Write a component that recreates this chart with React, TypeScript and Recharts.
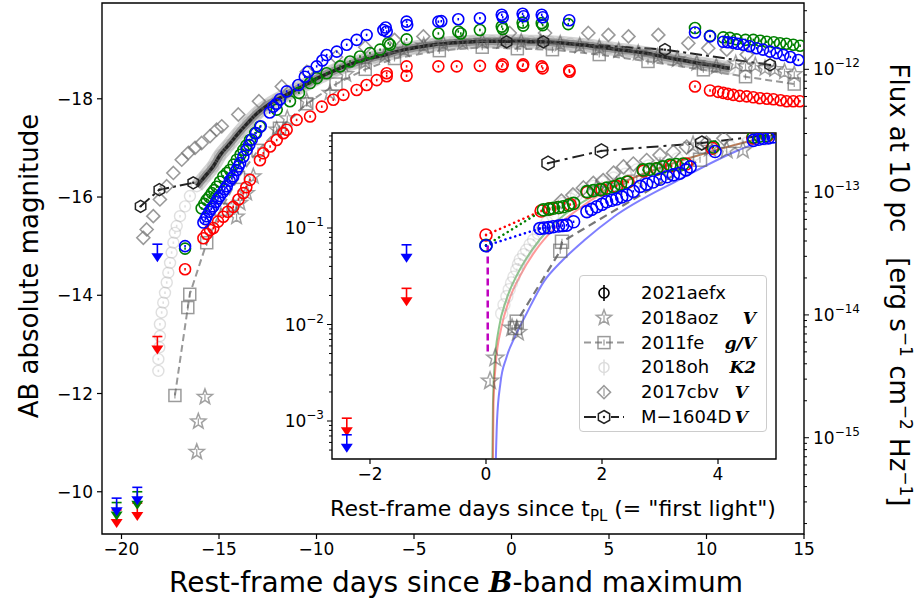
import React from 'react';
import { ComposedChart, Scatter, Line, XAxis, YAxis, ReferenceArea } from 'recharts';

type Pt = [number, number];

// ---------- main panel: days since B max vs AB absolute magnitude ----------
const X_TICKS = [-20, -15, -10, -5, 0, 5, 10, 15];
const MAG_TICKS = [-18, -16, -14, -12, -10];
const FLUX_DECADES = [1e-16, 1e-15, 1e-14, 1e-13, 1e-12];
const X_DOMAIN: Pt = [-21, 15];
const MAG_DOMAIN: Pt = [-19.95, -9.14];

// 2021aefx (blue / green / red bands)
const AEFX_BLUE: Pt[] = [
  [-16.74, -15.0], [-15.8, -15.48], [-15.7, -15.55], [-15.63, -15.61], [-15.5, -15.7], [-15.4, -15.76],
  [-15.29, -15.81], [-15.15, -15.9], [-15.05, -15.97], [-14.95, -16.02], [-14.8, -16.1], [-14.7, -16.16],
  [-14.6, -16.22], [-14.45, -16.33], [-14.35, -16.38], [-14.27, -16.42], [-14.1, -16.55], [-14.0, -16.62],
  [-13.92, -16.69], [-13.75, -16.82], [-13.58, -16.96], [-13.45, -17.06], [-13.32, -17.17], [-13.1, -17.3],
  [-12.86, -17.44], [-12.4, -17.72], [-12.21, -17.84], [-12.05, -17.9], [-11.87, -17.99], [-11.53, -18.15],
  [-10.93, -18.28], [-10.6, -18.45], [-10.42, -18.55], [-9.99, -18.66], [-9.7, -18.78], [-9.48, -18.89],
  [-8.96, -18.96], [-8.45, -19.1], [-7.94, -19.2], [-7.43, -19.3], [-6.57, -19.4], [-6.4, -19.37],
  [-6.45, -19.45], [-5.38, -19.57], [-5.35, -19.5], [-3.75, -19.57], [-3.6, -19.58], [-2.73, -19.62],
  [-1.62, -19.64], [-0.5, -19.71], [-0.45, -19.66], [0.57, -19.73], [0.62, -19.68], [1.55, -19.71],
  [1.6, -19.66], [2.96, -19.6], [9.41, -19.35], [10.18, -19.27], [10.86, -19.16], [11.1, -19.15],
  [11.37, -19.14], [11.6, -19.12], [11.89, -19.1], [12.2, -19.07], [12.57, -19.03], [12.9, -19.0],
  [13.26, -18.96], [13.6, -18.93], [13.94, -18.89], [14.3, -18.85], [14.71, -18.79],
];
const AEFX_GREEN: Pt[] = [
  [-16.74, -14.95], [-15.89, -15.77], [-15.75, -15.86], [-15.63, -15.94], [-15.5, -16.0], [-15.37, -16.08],
  [-15.25, -16.14], [-15.12, -16.21], [-14.95, -16.31], [-14.78, -16.42], [-14.6, -16.49], [-14.44, -16.55],
  [-14.25, -16.66], [-14.09, -16.76], [-13.9, -16.86], [-13.75, -16.96], [-13.6, -17.05], [-13.41, -17.16],
  [-13.15, -17.3], [-12.9, -17.43], [-12.04, -17.78], [-11.36, -17.95], [-10.9, -18.12], [-10.33, -18.32],
  [-9.99, -18.42], [-9.48, -18.52], [-8.79, -18.66], [-8.28, -18.76], [-7.77, -18.86], [-7.26, -18.93],
  [-6.74, -19.0], [-6.32, -19.13], [-6.23, -19.1], [-5.38, -19.21], [-3.75, -19.33], [-2.73, -19.37],
  [-2.6, -19.33], [-1.62, -19.4], [-0.5, -19.47], [-0.45, -19.42], [0.57, -19.55], [0.6, -19.49],
  [1.55, -19.54], [1.6, -19.5], [2.91, -19.52], [9.41, -19.44], [10.18, -19.28], [10.86, -19.25],
  [11.2, -19.24], [11.54, -19.21], [12.0, -19.2], [12.4, -19.2], [12.75, -19.18], [13.09, -19.16],
  [13.45, -19.15], [13.77, -19.13], [14.1, -19.12], [14.45, -19.1], [14.8, -19.08],
];
const AEFX_RED: Pt[] = [
  [-16.74, -14.53], [-15.8, -15.16], [-15.63, -15.25], [-15.46, -15.33], [-15.29, -15.37], [-15.05, -15.5],
  [-14.78, -15.6], [-14.55, -15.7], [-14.27, -15.8], [-14.0, -15.95], [-13.75, -16.08], [-13.6, -16.2],
  [-13.41, -16.35], [-12.9, -16.75], [-12.73, -16.89], [-12.38, -17.03], [-12.04, -17.16], [-11.7, -17.3],
  [-11.53, -17.37], [-11.02, -17.57], [-10.33, -17.64], [-9.73, -17.84], [-9.14, -17.98], [-8.62, -18.08],
  [-7.94, -18.18], [-7.43, -18.28], [-6.91, -18.38], [-6.4, -18.52], [-6.4, -18.46], [-5.38, -18.66],
  [-5.38, -18.47], [-3.75, -18.66], [-2.81, -18.66], [-1.62, -18.67], [-0.5, -18.66], [-0.45, -18.7],
  [0.57, -18.67], [0.6, -18.7], [1.55, -18.66], [1.6, -18.62], [2.96, -18.58], [2.98, -18.55],
  [9.41, -18.25], [10.18, -18.17], [10.6, -18.14], [10.86, -18.12], [11.1, -18.1], [11.37, -18.08],
  [11.7, -18.06], [12.06, -18.05], [12.4, -18.03], [12.74, -18.01], [13.1, -18.0], [13.43, -17.99],
  [13.8, -17.97], [14.11, -17.95], [14.45, -17.95], [14.79, -17.95],
];
// 2021aefx upper limits
const UL_BLUE: Pt[] = [[-20.25, -9.87], [-19.19, -10.09], [-18.16, -15.04]];
const UL_GREEN: Pt[] = [[-20.25, -9.78], [-19.19, -10.0]];
const UL_RED: Pt[] = [[-20.25, -9.63], [-19.19, -9.77], [-18.16, -13.16]];

// comparison SNe
const AOZ: Pt[] = [
  [-16.14, -10.81], [-16.06, -11.43], [-15.72, -11.93], [-14.27, -15.81], [-14.1, -15.6], [-13.92, -15.88],
  [-13.58, -16.08], [-13.24, -16.42], [-12.04, -17.37], [-11.5, -17.6], [-10.5, -17.95], [-9.31, -18.12],
  [-8.5, -18.5], [-7.5, -18.75], [-6.5, -18.88], [-5.5, -19.0], [-4.5, -19.08], [-3.5, -19.12],
  [-2.5, -19.15], [-1.5, -19.17], [-0.5, -19.17], [0.5, -19.16], [1.5, -19.15], [2.5, -19.12],
  [3.5, -19.08], [4.5, -19.04], [5.5, -18.98], [6.5, -18.93], [7.5, -18.86], [8.5, -18.8],
  [9.5, -18.72], [10.5, -18.65], [11.5, -18.72], [12.0, -18.66], [12.5, -18.68], [13.0, -18.62],
  [13.5, -18.6], [14.0, -18.55], [14.5, -18.5],
];
const FE11: Pt[] = [
  [-17.26, -11.96], [-16.6, -13.75], [-16.5, -14.02], [-15.63, -15.07], [-14.9, -15.75], [-14.0, -16.4],
  [-13.0, -16.95], [-11.9, -17.4], [-10.5, -17.9], [-9.0, -18.3], [-7.5, -18.6], [-6.0, -18.82],
  [-3.7, -18.98], [-1.5, -19.05], [0.3, -19.02], [2.1, -19.0], [4.5, -18.9], [7.0, -18.76],
  [9.84, -18.59], [12.0, -18.45], [14.5, -18.3],
];
const OH18_K2: Pt[] = [
  [-18.11, -12.46], [-18.11, -12.7], [-18.06, -12.94], [-18.03, -13.17], [-18.03, -13.41], [-17.94, -13.65],
  [-17.86, -13.85], [-17.77, -14.05], [-17.68, -14.26], [-17.6, -14.46], [-17.51, -14.66], [-17.43, -14.87],
  [-17.34, -15.07], [-17.26, -15.27], [-17.17, -15.41], [-17.0, -15.61], [-16.74, -15.81], [-16.49, -16.02],
  [-16.14, -16.22], [-15.72, -16.42], [-15.3, -16.62], [-14.95, -16.85], [-14.5, -17.06], [-14.0, -17.3],
  [-13.5, -17.52], [-13.0, -17.72], [-12.5, -17.87], [-12.0, -17.99], [-11.5, -18.09], [-11.0, -18.2],
  [-10.5, -18.3], [-10.0, -18.41], [-9.5, -18.5], [-9.0, -18.59], [-8.5, -18.67], [-8.0, -18.74],
  [-7.5, -18.8], [-7.0, -18.85], [-6.5, -18.89], [-6.0, -18.95], [-5.5, -19.0], [-5.0, -19.04],
  [-4.5, -19.07], [-4.0, -19.1], [-3.5, -19.12], [-3.0, -19.14], [-2.5, -19.15], [-2.0, -19.16],
  [-1.5, -19.17], [-1.0, -19.17], [-0.5, -19.17], [0.0, -19.17], [0.5, -19.17], [1.0, -19.16],
  [1.5, -19.16], [2.0, -19.15], [2.5, -19.14], [3.0, -19.12], [3.5, -19.1], [4.0, -19.08],
  [4.5, -19.05], [5.0, -19.03], [5.5, -19.0], [6.0, -18.98], [6.5, -18.95], [7.0, -18.92],
  [7.5, -18.88], [8.0, -18.84], [8.5, -18.8], [9.0, -18.77], [9.5, -18.73], [10.0, -18.7],
  [10.5, -18.67], [11.0, -18.63], [11.2, -18.62],
];
const CBV17: Pt[] = [
  [-18.88, -15.17], [-18.71, -15.34], [-18.37, -15.61], [-18.03, -15.95], [-17.68, -16.22], [-17.34, -16.49],
  [-16.91, -16.76], [-16.57, -16.9], [-16.23, -17.0], [-15.89, -17.1], [-15.46, -17.24], [-15.12, -17.37],
  [-14.86, -17.44], [-14.01, -17.68], [-12.95, -17.95], [-11.78, -18.25], [-10.5, -18.55], [-9.0, -18.85],
  [-7.5, -19.05], [-6.0, -19.2], [-4.52, -19.27], [-0.09, -19.34], [1.72, -19.34], [3.94, -19.34],
  [4.97, -19.3], [6.0, -19.27], [7.53, -19.3], [9.07, -19.13], [10.09, -19.03], [11.04, -19.0],
  [12.06, -18.9],
];
const M1604D_EARLY: Pt[] = [[-19.02, -15.81], [-18.06, -16.15], [-16.32, -16.29]];
const M1604D_LATE: Pt[] = [[-0.25, -19.16], [1.63, -19.16], [7.87, -19.0], [13.26, -18.69]];

// ---------- inset: days since first light vs normalised flux ----------
const T_TICKS = [-2, 0, 2, 4];
const T_DOMAIN: Pt = [-2.655, 5];
const F_DECADES = [1e-4, 1e-3, 1e-2, 1e-1];
const F_DOMAIN: Pt = [4.04e-4, 0.965];

const IN_BLUE: Pt[] = [
  [0.0, 0.0656], [0.93, 0.099], [1.0, 0.1], [1.08, 0.101], [1.16, 0.103], [1.25, 0.105], [1.32, 0.106],
  [1.39, 0.107], [1.51, 0.116], [1.74, 0.148], [1.82, 0.156], [1.91, 0.166], [2.0, 0.176], [2.08, 0.187],
  [2.17, 0.194], [2.25, 0.2], [2.34, 0.21], [2.43, 0.22], [2.54, 0.24], [2.66, 0.27], [2.77, 0.285],
  [2.88, 0.3], [3.0, 0.32], [3.12, 0.34], [3.23, 0.355], [3.34, 0.37], [3.45, 0.4], [3.52, 0.43],
  [3.95, 0.62], [4.61, 0.81], [4.7, 0.83], [4.78, 0.85], [4.87, 0.86], [4.95, 0.88],
];
const IN_GREEN: Pt[] = [
  [0.0, 0.066], [0.99, 0.154], [1.08, 0.157], [1.16, 0.16], [1.25, 0.163], [1.33, 0.166], [1.42, 0.172],
  [1.51, 0.18], [1.74, 0.238], [1.85, 0.244], [1.97, 0.25], [2.08, 0.259], [2.2, 0.268], [2.32, 0.285],
  [2.43, 0.3], [2.71, 0.4], [2.82, 0.405], [2.94, 0.41], [3.05, 0.43], [3.17, 0.45], [3.28, 0.455],
  [3.4, 0.46], [3.92, 0.69], [4.61, 0.88], [4.72, 0.895], [4.84, 0.91],
];
const IN_RED: Pt[] = [
  [0.0, 0.0846], [0.95, 0.15], [1.1, 0.158], [1.25, 0.163], [1.45, 0.175], [1.75, 0.235], [2.0, 0.25],
  [2.25, 0.27], [2.45, 0.3], [2.72, 0.39], [2.95, 0.41], [3.2, 0.44], [3.45, 0.46], [3.9, 0.67],
  [4.6, 0.86], [4.85, 0.9],
];
const IN_UL_BLUE: Pt[] = [[-2.4, 0.00072], [-1.37, 0.067]];
const IN_UL_RED: Pt[] = [[-2.4, 0.00107], [-1.37, 0.0237]];
const IN_T0_LINE: Pt[] = [[0.03, 0.066], [0.03, 0.005]];

const FIT_GREEN: Pt[] = [
  [0.11, 4.1e-4], [0.12, 0.0015], [0.15, 0.004], [0.22, 0.009], [0.35, 0.018], [0.55, 0.034],
  [0.8, 0.06], [1.1, 0.1], [1.5, 0.16], [2.0, 0.24], [3.0, 0.42], [4.0, 0.65], [5.0, 0.93],
];
const FIT_RED: Pt[] = [
  [0.12, 4.1e-4], [0.13, 0.0015], [0.17, 0.004], [0.26, 0.009], [0.4, 0.018], [0.6, 0.033],
  [0.85, 0.058], [1.15, 0.095], [1.55, 0.15], [2.0, 0.23], [3.0, 0.42], [4.0, 0.65], [5.0, 0.93],
];
const FIT_BLUE: Pt[] = [
  [0.17, 4.1e-4], [0.19, 0.001], [0.25, 0.0025], [0.35, 0.0045], [0.5, 0.0075], [0.7, 0.013],
  [1.0, 0.028], [1.3, 0.045], [1.7, 0.075], [2.2, 0.13], [3.3, 0.31], [4.3, 0.62], [5.0, 0.9],
];
const IN_AOZ: Pt[] = [
  [0.07, 0.0026], [0.16, 0.0045], [0.45, 0.0092], [0.55, 0.0083], [1.9, 0.25], [2.25, 0.27],
  [2.6, 0.33], [3.0, 0.42], [3.57, 0.72], [3.86, 0.67], [4.15, 0.64], [4.43, 0.64],
];
const IN_FE11: Pt[] = [[0.5, 0.0092], [0.53, 0.0107], [1.28, 0.058], [1.31, 0.072], [3.69, 0.51]];
const IN_K2: Pt[] = [
  [0.27, 0.013], [0.31, 0.016], [0.36, 0.0195], [0.4, 0.023], [0.44, 0.027], [0.48, 0.031], [0.53, 0.037],
  [0.56, 0.042], [0.59, 0.047], [0.65, 0.053], [0.7, 0.059], [0.76, 0.067], [0.82, 0.075], [0.9, 0.088],
  [0.97, 0.1], [1.05, 0.115], [1.15, 0.135], [1.25, 0.16], [1.33, 0.18], [1.45, 0.2], [1.56, 0.22],
  [1.7, 0.24], [1.85, 0.27], [2.0, 0.3], [2.2, 0.33], [2.4, 0.36], [2.6, 0.4], [2.8, 0.44], [3.0, 0.47],
  [3.3, 0.52], [3.6, 0.58], [3.9, 0.63], [4.2, 0.7], [4.5, 0.76], [4.8, 0.83],
];
const IN_CBV17: Pt[] = [
  [1.3, 0.19], [1.5, 0.22], [1.68, 0.26], [1.85, 0.29], [2.02, 0.31], [2.2, 0.37], [2.37, 0.43],
  [2.54, 0.46], [2.77, 0.5], [3.0, 0.57], [3.23, 0.61], [3.46, 0.69], [3.8, 0.76], [4.1, 0.85],
];
const IN_M1604D: Pt[] = [[1.07, 0.47], [1.99, 0.63], [3.72, 0.76], [19.84, 10.7]];

// ---------- helpers ----------
const FONT = '"DejaVu Sans", Verdana, sans-serif';
const SERIF = '"DejaVu Serif", serif';
const MINUS = '\u2212';
const BLUE = '#0000ff';
const GREEN = '#008000';
const RED = '#ff0000';
const TICK_FS = 17;

const xy = (a: Pt[]) => a.map(([x, y]) => ({ x, y }));
const tf = (a: Pt[]) => a.map(([t, f]) => ({ t, f }));
const fmt = (v: number) => (v < 0 ? MINUS + Math.abs(v) : String(v));
const magOfFlux = (f: number) => -2.5 * Math.log10(f) - 48.6;
const fluxOfMag = (m: number) => Math.pow(10, -(m + 48.6) / 2.5);
const KS = [1, 2, 3, 4, 5, 6, 7, 8, 9];

const FLUX_TICK_MAGS = FLUX_DECADES.flatMap((d) => KS.map((k) => magOfFlux(k * d))).filter(
  (m) => m >= MAG_DOMAIN[0] && m <= MAG_DOMAIN[1]
);
const INSET_TICKS = F_DECADES.flatMap((d) => KS.map((k) => k * d)).filter(
  (f) => f >= F_DOMAIN[0] && f <= F_DOMAIN[1]
);
const isDecade = (v: number) => Math.abs(Math.log10(v) - Math.round(Math.log10(v))) < 1e-6;
const K2_BAND = OH18_K2.filter((p) => p[0] > -16.4);

function starPath(cx: number, cy: number, R: number) {
  const pts: string[] = [];
  for (let i = 0; i < 10; i++) {
    const a = -Math.PI / 2 + (i * Math.PI) / 5;
    const r = i % 2 === 0 ? R : R * 0.42;
    pts.push(`${(cx + r * Math.cos(a)).toFixed(2)},${(cy + r * Math.sin(a)).toFixed(2)}`);
  }
  return 'M' + pts.join('L') + 'Z';
}
function hexPath(cx: number, cy: number, R: number) {
  const pts: string[] = [];
  for (let i = 0; i < 6; i++) {
    const a = -Math.PI / 2 + (i * Math.PI) / 3;
    pts.push(`${(cx + R * Math.cos(a)).toFixed(2)},${(cy + R * Math.sin(a)).toFixed(2)}`);
  }
  return 'M' + pts.join('L') + 'Z';
}

// markers
const circ = (color: string, r = 5.5, op = 1, sw = 1.6) => (p: any) => (
  <g opacity={op}>
    <circle cx={p.cx} cy={p.cy} r={r} fill="none" stroke={color} strokeWidth={sw} />
    <line x1={p.cx} x2={p.cx} y1={p.cy - 1.2} y2={p.cy + 1.2} stroke={color} strokeWidth={1.6} />
  </g>
);
const star = (R: number) => (p: any) => (
  <g opacity={0.55}>
    <path d={starPath(p.cx, p.cy, R)} fill="none" stroke="#555" strokeWidth={1.5} />
    <line x1={p.cx} x2={p.cx} y1={p.cy - 3} y2={p.cy + 3} stroke="#555" strokeWidth={1.2} />
  </g>
);
const square = (h: number) => (p: any) => (
  <g opacity={0.65}>
    <rect x={p.cx - h} y={p.cy - h} width={2 * h} height={2 * h} fill="none" stroke="#666" strokeWidth={1.5} />
    <line x1={p.cx} x2={p.cx} y1={p.cy - 3} y2={p.cy + 3} stroke="#666" strokeWidth={1.2} />
  </g>
);
const diamond = (h: number) => (p: any) => (
  <path
    d={`M${p.cx},${p.cy - h}L${p.cx + h},${p.cy}L${p.cx},${p.cy + h}L${p.cx - h},${p.cy}Z`}
    fill="none"
    stroke="#777"
    strokeWidth={1.6}
    opacity={0.75}
  />
);
const hexagon = (R: number) => (p: any) => (
  <g>
    <path d={hexPath(p.cx, p.cy, R)} fill="none" stroke="#222" strokeWidth={1.5} />
    <circle cx={p.cx} cy={p.cy} r={1.2} fill="#222" />
  </g>
);
const upperLimit = (color: string) => (p: any) => (
  <g>
    <line x1={p.cx - 5} x2={p.cx + 5} y1={p.cy} y2={p.cy} stroke={color} strokeWidth={1.6} />
    <line x1={p.cx} x2={p.cx} y1={p.cy} y2={p.cy + 10} stroke={color} strokeWidth={1.6} />
    <path d={`M${p.cx - 6},${p.cy + 9}L${p.cx + 6},${p.cy + 9}L${p.cx},${p.cy + 18}Z`} fill={color} />
  </g>
);

// ticks (tickSize 0 / tickMargin 0 so x,y sit on the axis line)
const bottomTick = (fs: number) => (p: any) => (
  <g>
    <line x1={p.x} x2={p.x} y1={p.y} y2={p.y + 5} stroke="#000" strokeWidth={1.2} />
    <text x={p.x} y={p.y + 8 + fs * 0.76} textAnchor="middle" fontSize={fs} fontFamily={FONT} fill="#000">
      {fmt(p.payload.value)}
    </text>
  </g>
);
const leftMagTick = (p: any) => (
  <g>
    <line x1={p.x - 5} x2={p.x} y1={p.y} y2={p.y} stroke="#000" strokeWidth={1.2} />
    <text x={p.x - 9} y={p.y + 6} textAnchor="end" fontSize={TICK_FS} fontFamily={FONT} fill="#000">
      {fmt(p.payload.value)}
    </text>
  </g>
);
const rightFluxTick = (p: any) => {
  const f = fluxOfMag(p.payload.value);
  const major = isDecade(f);
  return (
    <g>
      <line x1={p.x} x2={p.x + (major ? 5 : 3)} y1={p.y} y2={p.y} stroke="#000" strokeWidth={1} />
      {major && (
        <text x={p.x + 9} y={p.y + 6} fontSize={TICK_FS} fontFamily={FONT} fill="#000">
          10
          <tspan dy={-8} fontSize={12}>
            {MINUS + Math.abs(Math.round(Math.log10(f)))}
          </tspan>
        </text>
      )}
    </g>
  );
};
const insetLogTick = (p: any) => {
  const v = p.payload.value;
  const major = isDecade(v);
  return (
    <g>
      <line x1={p.x - (major ? 5 : 3)} x2={p.x} y1={p.y} y2={p.y} stroke="#000" strokeWidth={1} />
      {major && (
        <text x={p.x - 8} y={p.y + 6} textAnchor="end" fontSize={TICK_FS} fontFamily={FONT} fill="#000">
          10
          <tspan dy={-8} fontSize={12}>
            {MINUS + Math.abs(Math.round(Math.log10(v)))}
          </tspan>
        </text>
      )}
    </g>
  );
};

const LEGEND_ROWS = [
  { name: '2021aefx', band: '' },
  { name: '2018aoz', band: 'V' },
  { name: '2011fe', band: 'g/V' },
  { name: '2018oh', band: 'K2' },
  { name: '2017cbv', band: 'V' },
  { name: 'M\u22121604D', band: 'V' },
];

function LegendGlyph({ i, y }: { i: number; y: number }) {
  const cx = 24;
  if (i === 0)
    return (
      <g stroke="#000" strokeWidth={1.6} fill="none">
        <circle cx={cx} cy={y} r={5} />
        <line x1={cx} x2={cx} y1={y - 8} y2={y + 8} />
      </g>
    );
  if (i === 1) return star(8)({ cx, cy: y });
  if (i === 2)
    return (
      <g>
        <line x1={4} x2={44} y1={y} y2={y} stroke="#999" strokeWidth={2} strokeDasharray="7 4" />
        {square(6)({ cx, cy: y })}
      </g>
    );
  if (i === 3)
    return (
      <g stroke="#ddd" strokeWidth={1.5} fill="none">
        <circle cx={cx} cy={y} r={5} />
        <line x1={cx} x2={cx} y1={y - 8} y2={y + 8} />
      </g>
    );
  if (i === 4)
    return (
      <g>
        {diamond(6.5)({ cx, cy: y })}
        <line x1={cx} x2={cx} y1={y - 4} y2={y + 4} stroke="#777" strokeWidth={1.2} opacity={0.75} />
      </g>
    );
  return (
    <g>
      <line x1={4} x2={44} y1={y} y2={y} stroke="#222" strokeWidth={2} strokeDasharray="12 4 3 4" />
      <rect x={cx - 7} y={y - 8} width={14} height={16} fill="#fff" />
      {hexagon(6.5)({ cx, cy: y })}
    </g>
  );
}

function InsetLegend() {
  return (
    <div
      style={{
        position: 'absolute',
        left: 579,
        top: 275,
        width: 188,
        height: 157,
        boxSizing: 'border-box',
        border: '1px solid #ccc',
        borderRadius: 4,
        background: 'rgba(255,255,255,0.85)',
      }}
    >
      <svg width={188} height={157}>
        {LEGEND_ROWS.map((r, i) => {
          const y = 17 + i * 24.8;
          return (
            <g key={r.name}>
              <LegendGlyph i={i} y={y} />
              <text x={61} y={y + 6} fontSize={18} fontFamily={FONT} fill="#000">
                {r.name}
              </text>
              {r.band && (
                <text
                  x={i >= 4 ? 168 : 176}
                  y={y + 6}
                  textAnchor="end"
                  fontSize={17}
                  fontFamily={SERIF}
                  fontWeight="bold"
                  fontStyle="italic"
                  fill="#000"
                >
                  {r.band}
                </text>
              )}
            </g>
          );
        })}
      </svg>
    </div>
  );
}

export default function App() {
  return (
    <div style={{ position: 'absolute', left: 0, top: 0, width: 917, height: 604, background: '#fff' }}>
      <div style={{ position: 'absolute', left: 0, top: 0 }}>
        <ComposedChart width={917} height={604} margin={{ top: 3, right: 53, bottom: 40, left: 42 }}>
          <XAxis
            type="number"
            dataKey="x"
            domain={X_DOMAIN}
            ticks={X_TICKS}
            interval={0}
            allowDataOverflow
            axisLine={false}
            tickLine={false}
            tickSize={0}
            tickMargin={0}
            height={30}
            tick={bottomTick(TICK_FS)}
          />
          <YAxis
            yAxisId="m"
            type="number"
            dataKey="y"
            domain={MAG_DOMAIN}
            reversed
            ticks={MAG_TICKS}
            interval={0}
            allowDataOverflow
            axisLine={false}
            tickLine={false}
            tickSize={0}
            tickMargin={0}
            width={60}
            tick={leftMagTick}
          />
          <YAxis
            yAxisId="f"
            orientation="right"
            type="number"
            dataKey="y"
            domain={MAG_DOMAIN}
            reversed
            ticks={FLUX_TICK_MAGS}
            interval={0}
            allowDataOverflow
            axisLine={false}
            tickLine={false}
            tickSize={0}
            tickMargin={0}
            width={60}
            tick={rightFluxTick}
          />

          {/* 2018oh K2: dense light circles piling into a dark band */}
          <Scatter data={xy(OH18_K2)} yAxisId="m" shape={circ('#999', 5.5, 0.3, 1.4)} isAnimationActive={false} />
          <Line data={xy(K2_BAND)} dataKey="y" yAxisId="m" type="monotone" stroke="#666" strokeWidth={14}
            strokeOpacity={0.28} dot={false} activeDot={false} isAnimationActive={false} />
          <Line data={xy(K2_BAND)} dataKey="y" yAxisId="m" type="monotone"
            stroke="#444" strokeWidth={8} strokeOpacity={0.45} dot={false} activeDot={false} isAnimationActive={false} />
          <Line data={xy(K2_BAND)} dataKey="y" yAxisId="m" type="monotone"
            stroke="#111" strokeWidth={3.5} strokeOpacity={0.85} dot={false} activeDot={false} isAnimationActive={false} />

          <Scatter data={xy(CBV17)} yAxisId="m" shape={diamond(6.5)} isAnimationActive={false} />

          <Line data={xy(FE11)} dataKey="y" yAxisId="m" type="linear" stroke="#999" strokeWidth={2}
            strokeDasharray="7 4" dot={false} activeDot={false} isAnimationActive={false} />
          <Scatter data={xy(FE11)} yAxisId="m" shape={square(6)} isAnimationActive={false} />

          <Scatter data={xy(AOZ)} yAxisId="m" shape={star(8)} isAnimationActive={false} />

          <Line data={xy(M1604D_EARLY)} dataKey="y" yAxisId="m" type="linear" stroke="#222" strokeWidth={2}
            strokeDasharray="12 4 3 4" dot={false} activeDot={false} isAnimationActive={false} />
          <Line data={xy(M1604D_LATE)} dataKey="y" yAxisId="m" type="linear" stroke="#222" strokeWidth={2}
            strokeDasharray="12 4 3 4" dot={false} activeDot={false} isAnimationActive={false} />
          <Scatter data={xy([...M1604D_EARLY, ...M1604D_LATE])} yAxisId="m" shape={hexagon(6)} isAnimationActive={false} />

          <Scatter data={xy(AEFX_RED)} yAxisId="m" shape={circ(RED)} isAnimationActive={false} />
          <Scatter data={xy(AEFX_GREEN)} yAxisId="m" shape={circ(GREEN)} isAnimationActive={false} />
          <Scatter data={xy(AEFX_BLUE)} yAxisId="m" shape={circ(BLUE)} isAnimationActive={false} />

          <Scatter data={xy(UL_RED)} yAxisId="m" shape={upperLimit(RED)} isAnimationActive={false} />
          <Scatter data={xy(UL_GREEN)} yAxisId="m" shape={upperLimit(GREEN)} isAnimationActive={false} />
          <Scatter data={xy(UL_BLUE)} yAxisId="m" shape={upperLimit(BLUE)} isAnimationActive={false} />

          <ReferenceArea yAxisId="m" x1={X_DOMAIN[0]} x2={X_DOMAIN[1]} y1={MAG_DOMAIN[0]} y2={MAG_DOMAIN[1]}
            fill="none" stroke="#000" strokeWidth={1.4} fillOpacity={0} />
        </ComposedChart>
      </div>

      {/* inset background */}
      <div style={{ position: 'absolute', left: 332, top: 133, width: 444, height: 326, background: '#fff' }} />

      <div style={{ position: 'absolute', left: 252, top: 123 }}>
        <ComposedChart width={540} height={400} margin={{ top: 10, right: 16, bottom: 34, left: 20 }}>
          <XAxis
            type="number"
            dataKey="t"
            domain={T_DOMAIN}
            ticks={T_TICKS}
            interval={0}
            allowDataOverflow
            axisLine={false}
            tickLine={false}
            tickSize={0}
            tickMargin={0}
            height={30}
            tick={bottomTick(TICK_FS)}
          />
          <YAxis
            type="number"
            dataKey="f"
            scale="log"
            domain={F_DOMAIN}
            ticks={INSET_TICKS}
            interval={0}
            allowDataOverflow
            axisLine={false}
            tickLine={false}
            tickSize={0}
            tickMargin={0}
            width={60}
            tick={insetLogTick}
          />

          <Scatter data={tf(IN_K2)} shape={circ('#aaa', 6, 0.3, 1.4)} isAnimationActive={false} />

          <Line data={tf(FIT_GREEN)} dataKey="f" type="monotone" stroke={GREEN} strokeOpacity={0.45} strokeWidth={2}
            dot={false} activeDot={false} isAnimationActive={false} />
          <Line data={tf(FIT_RED)} dataKey="f" type="monotone" stroke={RED} strokeOpacity={0.4} strokeWidth={2}
            dot={false} activeDot={false} isAnimationActive={false} />
          <Line data={tf(FIT_BLUE)} dataKey="f" type="monotone" stroke={BLUE} strokeOpacity={0.5} strokeWidth={2}
            dot={false} activeDot={false} isAnimationActive={false} />

          <Scatter data={tf(IN_CBV17)} shape={diamond(7)} isAnimationActive={false} />

          <Line data={tf(IN_FE11)} dataKey="f" type="linear" stroke="#777" strokeWidth={2.2} strokeDasharray="8 5"
            dot={false} activeDot={false} isAnimationActive={false} />
          <Scatter data={tf(IN_FE11)} shape={square(6.5)} isAnimationActive={false} />

          <Scatter data={tf(IN_AOZ)} shape={star(9)} isAnimationActive={false} />

          <Line data={tf(IN_T0_LINE)} dataKey="f" type="linear" stroke="#bf00bf" strokeWidth={2.5}
            strokeDasharray="7 4" dot={false} activeDot={false} isAnimationActive={false} />

          <Line data={tf(IN_RED.slice(0, 2))} dataKey="f" type="linear" stroke={RED} strokeWidth={2.5}
            strokeDasharray="0.1 5" strokeLinecap="round" dot={false} activeDot={false} isAnimationActive={false} />
          <Line data={tf(IN_GREEN.slice(0, 2))} dataKey="f" type="linear" stroke={GREEN} strokeWidth={2.5}
            strokeDasharray="0.1 5" strokeLinecap="round" dot={false} activeDot={false} isAnimationActive={false} />
          <Line data={tf(IN_BLUE.slice(0, 2))} dataKey="f" type="linear" stroke={BLUE} strokeWidth={2.5}
            strokeDasharray="0.1 5" strokeLinecap="round" dot={false} activeDot={false} isAnimationActive={false} />

          <Scatter data={tf(IN_RED)} shape={circ(RED, 6)} isAnimationActive={false} />
          <Scatter data={tf(IN_GREEN)} shape={circ(GREEN, 6)} isAnimationActive={false} />
          <Scatter data={tf(IN_BLUE)} shape={circ(BLUE, 6)} isAnimationActive={false} />

          <Line data={tf(IN_M1604D)} dataKey="f" type="linear" stroke="#222" strokeWidth={2}
            strokeDasharray="12 5 3 5" dot={false} activeDot={false} isAnimationActive={false} />
          <Scatter data={tf(IN_M1604D)} shape={hexagon(7)} isAnimationActive={false} />

          <Scatter data={tf(IN_UL_RED)} shape={upperLimit(RED)} isAnimationActive={false} />
          <Scatter data={tf(IN_UL_BLUE)} shape={upperLimit(BLUE)} isAnimationActive={false} />

          <ReferenceArea x1={T_DOMAIN[0]} x2={T_DOMAIN[1]} y1={F_DOMAIN[0]} y2={F_DOMAIN[1]}
            fill="none" stroke="#000" strokeWidth={1.4} fillOpacity={0} />
        </ComposedChart>
      </div>

      <InsetLegend />

      {/* axis titles */}
      <svg width={917} height={604} style={{ position: 'absolute', left: 0, top: 0, pointerEvents: 'none' }}>
        <text transform="translate(38,266) rotate(-90)" textAnchor="middle" fontSize={26} fontFamily={FONT} fill="#000">
          AB absolute magnitude
        </text>
        <text x={456} y={592} textAnchor="middle" fontSize={28} fontFamily={FONT} fill="#000">
          Rest-frame days since{' '}
          <tspan fontFamily={SERIF} fontWeight="bold" fontStyle="italic">B</tspan>-band maximum
        </text>
        <text transform="translate(890,285) rotate(90)" textAnchor="middle" fontSize={26} fontFamily={FONT} fill="#000"
          style={{ whiteSpace: 'pre' }}>
          {'Flux at 10 pc   [erg s'}
          <tspan dy={-10} fontSize={17}>{MINUS + '1'}</tspan>
          <tspan dy={10}>{' cm'}</tspan>
          <tspan dy={-10} fontSize={17}>{MINUS + '2'}</tspan>
          <tspan dy={10}>{' Hz'}</tspan>
          <tspan dy={-10} fontSize={17}>{MINUS + '1'}</tspan>
          <tspan dy={10}>]</tspan>
        </text>
        <text x={553} y={516} textAnchor="middle" fontSize={22} fontFamily={FONT} fill="#000">
          Rest-frame days since t<tspan dy={5} fontSize={15}>PL</tspan>
          <tspan dy={-5}>{' (= "first light")'}</tspan>
        </text>
      </svg>
    </div>
  );
}
